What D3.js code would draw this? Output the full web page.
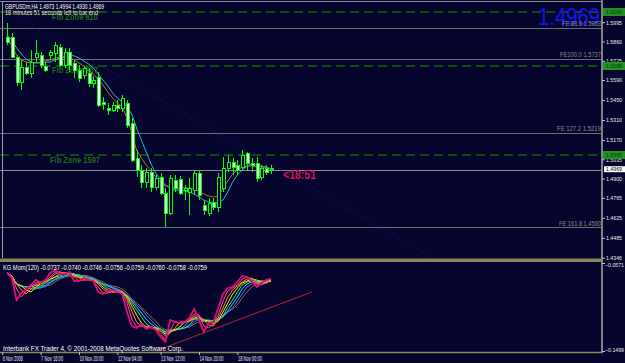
<!DOCTYPE html>
<html><head><meta charset="utf-8">
<script src="https://cdn.jsdelivr.net/npm/d3@7"></script>
<style>html,body{margin:0;padding:0;background:#06052e;overflow:hidden}svg{display:block}</style>
</head><body>
<svg id="c" width="625" height="363"></svg>
<script>
// ---------- DATA ----------
const openP  = [1.5891,1.5891,1.5751,1.5576,1.5681,1.5639,1.5751,1.5765,1.5688,1.5765,1.5779,1.5821,1.5695,1.5786,1.5709,1.5660,1.5625,1.5639,1.5569,1.5611,1.5436,1.5394,1.5380,1.5415,1.5394,1.5429,1.5289,1.5044,1.4960,1.4876,1.4946,1.4841,1.4911,1.4799,1.4659,1.4890,1.4897,1.4820,1.4806,1.4820,1.4939,1.4715,1.4659,1.4736,1.4701,1.4834,1.4974,1.5016,1.4995,1.4981,1.5079,1.5009,1.5009,1.4911,1.4974,1.4973];
const highP  = [1.5989,1.5919,1.5765,1.5730,1.5716,1.5800,1.5870,1.5786,1.5716,1.5800,1.5856,1.5842,1.5814,1.5814,1.5730,1.5695,1.5688,1.5674,1.5618,1.5646,1.5471,1.5429,1.5436,1.5450,1.5485,1.5450,1.5324,1.5100,1.4995,1.4974,1.4974,1.4925,1.4939,1.4834,1.4925,1.4925,1.4918,1.4855,1.4904,1.4960,1.4960,1.4750,1.4764,1.4764,1.4939,1.5051,1.5065,1.5044,1.5030,1.5100,1.5086,1.5044,1.5051,1.4995,1.4995,1.4994];
const lowP   = [1.5835,1.5751,1.5548,1.5520,1.5625,1.5604,1.5709,1.5674,1.5646,1.5730,1.5716,1.5681,1.5674,1.5646,1.5604,1.5576,1.5597,1.5541,1.5534,1.5401,1.5380,1.5345,1.5366,1.5366,1.5366,1.5254,1.5016,1.4911,1.4834,1.4834,1.4806,1.4820,1.4785,1.4561,1.4645,1.4806,1.4785,1.4750,1.4645,1.4785,1.4750,1.4645,1.4638,1.4680,1.4666,1.4806,1.4946,1.4925,1.4925,1.4960,1.4960,1.4946,1.4876,1.4890,1.4925,1.4930];
const closeP = [1.5856,1.5751,1.5576,1.5681,1.5639,1.5716,1.5779,1.5695,1.5660,1.5786,1.5835,1.5695,1.5786,1.5695,1.5660,1.5604,1.5674,1.5569,1.5590,1.5415,1.5422,1.5380,1.5415,1.5394,1.5464,1.5275,1.5030,1.4960,1.4876,1.4946,1.4841,1.4904,1.4799,1.4659,1.4904,1.4834,1.4799,1.4834,1.4834,1.4939,1.4785,1.4680,1.4729,1.4701,1.4911,1.4974,1.5016,1.4981,1.4960,1.5065,1.5009,1.4995,1.4904,1.4974,1.4946,1.4969];

const maOrange = [1.5884,1.5828,1.5765,1.5730,1.5716,1.5709,1.5709,1.5716,1.5723,1.5730,1.5744,1.5751,1.5751,1.5751,1.5730,1.5709,1.5688,1.5660,1.5632,1.5597,1.5555,1.5506,1.5464,1.5429,1.5401,1.5324,1.5219,1.5100,1.5044,1.4995,1.4953,1.4911,1.4876,1.4848,1.4841,1.4834,1.4834,1.4834,1.4834,1.4827,1.4813,1.4792,1.4778,1.4771,1.4778,1.4834,1.4883,1.4932,1.4960,1.4981,1.4988,1.4988,1.4981,1.4981,1.4974,1.4967];
const maCyan   = [1.5905,1.5870,1.5814,1.5772,1.5737,1.5716,1.5709,1.5709,1.5716,1.5716,1.5730,1.5744,1.5758,1.5765,1.5758,1.5744,1.5723,1.5702,1.5674,1.5632,1.5590,1.5548,1.5499,1.5464,1.5436,1.5401,1.5352,1.5254,1.5170,1.5086,1.5002,1.4939,1.4890,1.4855,1.4834,1.4820,1.4820,1.4813,1.4806,1.4792,1.4771,1.4750,1.4736,1.4729,1.4729,1.4750,1.4806,1.4876,1.4925,1.4960,1.4988,1.5002,1.4995,1.4988,1.4981,1.4967];

// KG Mom(120) – eight lines, fastest first
const mom0 = [-0.0676,-0.0729,-0.0961,-0.0887,-0.0845,-0.0803,-0.0750,-0.0782,-0.0750,-0.0676,-0.0645,-0.0687,-0.0687,-0.0666,-0.0761,-0.0761,-0.0729,-0.0750,-0.0761,-0.0877,-0.0898,-0.0866,-0.0856,-0.0877,-0.0898,-0.1088,-0.1235,-0.1256,-0.1214,-0.1267,-0.1246,-0.1278,-0.1351,-0.1404,-0.1172,-0.1193,-0.1204,-0.1193,-0.1151,-0.1056,-0.1172,-0.1299,-0.1204,-0.1193,-0.1046,-0.0898,-0.0835,-0.0824,-0.0771,-0.0708,-0.0719,-0.0761,-0.0824,-0.0782,-0.0750,-0.0737];
const mom1 = [-0.0676,-0.0708,-0.0845,-0.0930,-0.0866,-0.0824,-0.0782,-0.0771,-0.0771,-0.0719,-0.0666,-0.0666,-0.0687,-0.0676,-0.0719,-0.0761,-0.0750,-0.0740,-0.0761,-0.0824,-0.0887,-0.0887,-0.0866,-0.0866,-0.0887,-0.0993,-0.1162,-0.1246,-0.1235,-0.1246,-0.1256,-0.1267,-0.1320,-0.1383,-0.1288,-0.1183,-0.1204,-0.1204,-0.1172,-0.1109,-0.1119,-0.1235,-0.1256,-0.1204,-0.1119,-0.0972,-0.0866,-0.0835,-0.0803,-0.0740,-0.0719,-0.0740,-0.0792,-0.0803,-0.0771,-0.0740];
const mom2 = [-0.0676,-0.0708,-0.0792,-0.0856,-0.0898,-0.0845,-0.0803,-0.0782,-0.0761,-0.0740,-0.0687,-0.0666,-0.0676,-0.0676,-0.0708,-0.0729,-0.0750,-0.0750,-0.0750,-0.0792,-0.0845,-0.0877,-0.0877,-0.0866,-0.0877,-0.0951,-0.1077,-0.1193,-0.1235,-0.1246,-0.1246,-0.1267,-0.1288,-0.1341,-0.1309,-0.1256,-0.1193,-0.1193,-0.1183,-0.1130,-0.1130,-0.1172,-0.1225,-0.1235,-0.1151,-0.1046,-0.0930,-0.0856,-0.0814,-0.0771,-0.0740,-0.0729,-0.0771,-0.0792,-0.0782,-0.0746];
const mom3 = [-0.0676,-0.0708,-0.0792,-0.0814,-0.0856,-0.0877,-0.0824,-0.0792,-0.0771,-0.0740,-0.0719,-0.0687,-0.0676,-0.0676,-0.0698,-0.0719,-0.0729,-0.0750,-0.0750,-0.0782,-0.0824,-0.0856,-0.0877,-0.0877,-0.0877,-0.0930,-0.1024,-0.1119,-0.1204,-0.1246,-0.1246,-0.1256,-0.1288,-0.1320,-0.1299,-0.1278,-0.1246,-0.1193,-0.1183,-0.1151,-0.1140,-0.1172,-0.1183,-0.1214,-0.1183,-0.1088,-0.0993,-0.0898,-0.0835,-0.0782,-0.0761,-0.0740,-0.0750,-0.0771,-0.0782,-0.0756];
const mom4 = [-0.0676,-0.0708,-0.0792,-0.0814,-0.0824,-0.0845,-0.0845,-0.0814,-0.0782,-0.0750,-0.0719,-0.0708,-0.0687,-0.0676,-0.0687,-0.0708,-0.0719,-0.0729,-0.0750,-0.0771,-0.0803,-0.0835,-0.0856,-0.0877,-0.0877,-0.0919,-0.0993,-0.1067,-0.1140,-0.1214,-0.1246,-0.1256,-0.1267,-0.1309,-0.1288,-0.1278,-0.1267,-0.1235,-0.1183,-0.1162,-0.1151,-0.1172,-0.1172,-0.1183,-0.1183,-0.1130,-0.1035,-0.0961,-0.0877,-0.0803,-0.0771,-0.0761,-0.0761,-0.0761,-0.0771,-0.0759];
const mom5 = [-0.0676,-0.0708,-0.0792,-0.0814,-0.0824,-0.0814,-0.0835,-0.0835,-0.0803,-0.0771,-0.0740,-0.0719,-0.0708,-0.0687,-0.0687,-0.0698,-0.0719,-0.0729,-0.0740,-0.0771,-0.0792,-0.0814,-0.0835,-0.0856,-0.0877,-0.0919,-0.0972,-0.1035,-0.1098,-0.1162,-0.1214,-0.1246,-0.1267,-0.1299,-0.1288,-0.1278,-0.1267,-0.1256,-0.1225,-0.1162,-0.1162,-0.1183,-0.1183,-0.1183,-0.1162,-0.1140,-0.1077,-0.1003,-0.0930,-0.0845,-0.0792,-0.0771,-0.0771,-0.0761,-0.0761,-0.0760];
const mom6 = [-0.0676,-0.0708,-0.0792,-0.0814,-0.0824,-0.0814,-0.0803,-0.0824,-0.0824,-0.0782,-0.0750,-0.0729,-0.0708,-0.0698,-0.0698,-0.0698,-0.0708,-0.0719,-0.0729,-0.0761,-0.0792,-0.0803,-0.0824,-0.0845,-0.0866,-0.0908,-0.0961,-0.1014,-0.1056,-0.1119,-0.1172,-0.1225,-0.1267,-0.1288,-0.1278,-0.1278,-0.1267,-0.1256,-0.1235,-0.1193,-0.1162,-0.1183,-0.1183,-0.1183,-0.1162,-0.1119,-0.1088,-0.1046,-0.0972,-0.0898,-0.0824,-0.0792,-0.0782,-0.0771,-0.0761,-0.0758];
const mom7 = [-0.0676,-0.0708,-0.0792,-0.0814,-0.0824,-0.0814,-0.0803,-0.0803,-0.0814,-0.0803,-0.0771,-0.0740,-0.0719,-0.0708,-0.0708,-0.0708,-0.0698,-0.0708,-0.0729,-0.0750,-0.0771,-0.0803,-0.0814,-0.0824,-0.0845,-0.0887,-0.0951,-0.0993,-0.1035,-0.1088,-0.1140,-0.1183,-0.1246,-0.1278,-0.1278,-0.1267,-0.1267,-0.1256,-0.1246,-0.1214,-0.1193,-0.1183,-0.1183,-0.1183,-0.1162,-0.1130,-0.1088,-0.1056,-0.1014,-0.0940,-0.0877,-0.0824,-0.0792,-0.0782,-0.0771,-0.0759];
const momColors = ["#e0106a","#ff40d0","#ff8c00","#ffe000","#30e060","#00e0ff","#6a6aff","#8a6a30"];

const priceTicks = [1.5995,1.5860,1.5725,1.5590,1.5450,1.5310,1.5170,1.5035,1.4900,1.4765,1.4625,1.4485,1.4346];
const momTicks   = [-0.0571,-0.1499];
const timeLabels = ["6 Nov 2008","7 Nov 16:00","10 Nov 20:00","12 Nov 04:00","13 Nov 12:00","14 Nov 20:00","18 Nov 00:00"];
const timeIdx    = [-1,7,15,23,32,40,48];

const zonePrices = [1.6066,1.5688,1.5065];
const zoneNames  = ["Fib Zone 610","Fib Zone 987","Fib Zone 1597"];
const fePrices   = [1.5953,1.5737,1.5219,1.4560];
const feLabels   = ["FE 88.6 1.5953","FE100.0 1.5737","FE 127.2 1.5219","FE 161.8 1.4560"];
const bidPrice   = 1.4969;
const fanIdx     = [2.3,89.2];
const fanPrice   = [1.6024,1.4337];
const trendIdx   = [31,63.5];
const trendVal   = [-0.1499,-0.0877];

// ---------- SCALES ----------
const svg = d3.select("#c");
const BG = "#06052e";
svg.append("rect").attr("width",625).attr("height",363).attr("fill",BG);
const x  = d3.scaleLinear().domain([0,55]).range([7,271]);
const y  = d3.scaleLinear().domain([1.4344,1.6129]).range([258,3]);
const yi = d3.scaleLinear().domain([-0.1499,-0.0571]).range([351,263]);
const FONT = "Liberation Sans, Arial, sans-serif";

function txt(g,px,py,s,o){
  o=o||{};
  const t=g.append("text").attr("x",px).attr("y",py).text(s)
    .attr("font-family",o.font||FONT).attr("font-size",o.size||7)
    .attr("fill",o.fill||"#ffffff");
  if(o.w) t.attr("textLength",o.w).attr("lengthAdjust","spacingAndGlyphs");
  if(o.anchor) t.attr("text-anchor",o.anchor);
  if(o.weight) t.attr("font-weight",o.weight);
  return t;
}

const defs = svg.append("defs");
defs.append("clipPath").attr("id","mainClip").append("rect").attr("x",0).attr("y",3).attr("width",602).attr("height",255);
defs.append("clipPath").attr("id","indClip").append("rect").attr("x",0).attr("y",262).attr("width",602).attr("height",90);

const main = svg.append("g").attr("clip-path","url(#mainClip)");

// horizontal FE lines
main.selectAll(".fe").data(fePrices).enter().append("line")
  .attr("x1",0).attr("x2",602).attr("y1",d=>Math.round(y(d))+0.5).attr("y2",d=>Math.round(y(d))+0.5)
  .attr("stroke","#6e6e6e").attr("stroke-width",1);
// bid line
main.append("line").attr("x1",0).attr("x2",602)
  .attr("y1",Math.round(y(bidPrice))+1.5).attr("y2",Math.round(y(bidPrice))+1.5)
  .attr("stroke","#8a8a8a").attr("stroke-width",1);
// fib zone dashed lines
main.selectAll(".zone").data(zonePrices).enter().append("line")
  .attr("x1",0).attr("x2",602).attr("y1",d=>y(d)).attr("y2",d=>y(d))
  .attr("stroke","#0b650b").attr("stroke-width",1.6).attr("stroke-dasharray","9,5");
// fan line (dotted)
main.append("line")
  .attr("x1",x(fanIdx[0])).attr("y1",y(fanPrice[0])).attr("x2",x(fanIdx[1])).attr("y2",y(fanPrice[1]))
  .attr("stroke","#1e1e8a").attr("stroke-width",1).attr("stroke-dasharray","1,3");

// zone labels
zoneNames.forEach((n,i)=>{
  const ly=[20,73,163][i];
  txt(main,i==2?50:52,ly,n,{size:8.5,fill:"#1c6a1c",w:i==2?50:46,weight:"bold"});
});

// big price
txt(svg,600,25,"1.4969",{size:24,fill:"#1414f0",w:62,anchor:"end"});

// FE labels
const feY=[26,57,131,226];
feLabels.forEach((l,i)=>{
  txt(svg,601,feY[i],l,{size:6.5,fill:"#8a8a8a",w:[39,41,44,42][i],anchor:"end"});
});

// moving averages
const idx = d3.range(openP.length);
const maLine = d3.line().x(i=>x(i));
main.append("path").attr("d",maLine.y(i=>y(maCyan[i]))(idx)).attr("fill","none").attr("stroke","#22b8c8").attr("stroke-width",1);
main.append("path").attr("d",maLine.y(i=>y(maOrange[i]))(idx)).attr("fill","none").attr("stroke","#c8661e").attr("stroke-width",1);

// candles
const cg = main.append("g").attr("shape-rendering","crispEdges");
idx.forEach(i=>{
  const cx=Math.round(x(i));
  cg.append("line").attr("x1",cx+0.5).attr("x2",cx+0.5).attr("y1",y(highP[i])).attr("y2",y(lowP[i]))
    .attr("stroke","#00ff00").attr("stroke-width",1);
  const top=y(Math.max(openP[i],closeP[i])), bot=y(Math.min(openP[i],closeP[i]));
  const bear = closeP[i]<openP[i];
  cg.append("rect").attr("x",cx-1).attr("y",top).attr("width",3).attr("height",Math.max(1,bot-top))
    .attr("fill",bear?"#f2fff2":"#06052e").attr("stroke","#00ff00").attr("stroke-width",1);
});

// countdown
txt(svg,283,179,"<18:51",{size:12,fill:"#d0145a",w:33,weight:"bold"});

// headers
txt(svg,5,8.5,"GBPUSDm,H4  1.4973 1.4994 1.4930 1.4969",{size:6.5,fill:"#ffffff",w:99});
txt(svg,5,15,"18 minutes 51 seconds left to bar end",{size:6.5,fill:"#ecebd0",w:93});

// frame
svg.append("line").attr("x1",0).attr("x2",602).attr("y1",1.5).attr("y2",1.5).attr("stroke","#8c8c96").attr("stroke-width",1);
svg.append("line").attr("x1",2.5).attr("x2",2.5).attr("y1",2).attr("y2",258).attr("stroke","#9a9aa0").attr("stroke-width",1);
svg.append("rect").attr("x",0).attr("y",258.5).attr("width",603).attr("height",3.5).attr("fill","#8a8658");
svg.append("line").attr("x1",0).attr("x2",603).attr("y1",352.5).attr("y2",352.5).attr("stroke","#8a8658").attr("stroke-width",1.5);
svg.append("line").attr("x1",602).attr("x2",602).attr("y1",0).attr("y2",353).attr("stroke","#808080").attr("stroke-width",2);

// price axis
const pAxis = svg.append("g").attr("transform","translate(602,0)")
  .call(d3.axisRight(y).tickValues(priceTicks).tickSize(3).tickFormat(d3.format(".4f")));
pAxis.select(".domain").remove();
pAxis.selectAll("line").attr("stroke","#c0c0c0");
pAxis.selectAll("text").attr("x",4).attr("fill","#e8e8e8").attr("font-size",6).attr("font-family",FONT)
  .attr("textLength",16).attr("lengthAdjust","spacingAndGlyphs");

// green zone boxes on axis
zonePrices.forEach(p=>{
  svg.append("rect").attr("x",603).attr("y",y(p)-4).attr("width",22).attr("height",8).attr("fill","#229022");
  txt(svg,606,y(p)+2.2,d3.format(".4f")(p),{size:6,fill:"#0c3c0c",w:16});
});
// bid box
svg.append("rect").attr("x",604).attr("y",y(bidPrice)-2.5).attr("width",21).attr("height",6).attr("fill","#ffffff");
txt(svg,606,y(bidPrice)+2.6,"1.4969",{size:6,fill:"#000000",w:16});

// indicator
const ind = svg.append("g").attr("clip-path","url(#indClip)");
const momAll=[mom0,mom1,mom2,mom3,mom4,mom5,mom6,mom7];
const mLine = d3.line().x(i=>x(i));
for(let k=7;k>=0;k--){
  ind.append("path").attr("d",mLine.y(i=>yi(momAll[k][i]))(idx))
    .attr("fill","none").attr("stroke",momColors[k]).attr("stroke-width",k==0?1.8:1);
}
ind.append("line").attr("x1",x(trendIdx[0])).attr("y1",yi(trendVal[0])).attr("x2",x(trendIdx[1])).attr("y2",yi(trendVal[1]))
  .attr("stroke","#b02828").attr("stroke-width",1);

txt(svg,3,270,"KG Mom(120) -0.0737 -0.0740 -0.0746 -0.0756 -0.0759 -0.0760 -0.0758 -0.0759",{size:6.5,fill:"#ffffff",w:204});
txt(svg,3,350.5,"Interbank FX Trader 4, \u00a9 2001-2008 MetaQuotes Software Corp.",{size:6.5,fill:"#ffffff",w:180});

const mAxis = svg.append("g").attr("transform","translate(602,0)")
  .call(d3.axisRight(yi).tickValues(momTicks).tickSize(3).tickFormat(d3.format(".4f")));
mAxis.select(".domain").remove();
mAxis.selectAll("line").attr("stroke","#c0c0c0");
mAxis.selectAll("text").attr("x",3).attr("fill","#e8e8e8").attr("font-size",5.8).attr("font-family",FONT)
  .attr("textLength",19).attr("lengthAdjust","spacingAndGlyphs")
  .attr("dy",(d,i)=>i==0?"0.55em":"0.1em");

// time axis
const tAxis = svg.append("g").attr("transform","translate(0,352)")
  .call(d3.axisBottom(x).tickValues(timeIdx).tickSize(3).tickFormat((d,i)=>timeLabels[i]));
tAxis.select(".domain").remove();
tAxis.selectAll("line").attr("stroke","#c0c0c0");
tAxis.selectAll("text").attr("text-anchor","start").attr("y",9).attr("dy",0).attr("x",0)
  .attr("fill","#e8e8e8").attr("font-size",6.5).attr("font-family",FONT)
  .attr("textLength",(d,i)=>timeLabels[i].length*2.0).attr("lengthAdjust","spacingAndGlyphs");
</script>
</body></html>
